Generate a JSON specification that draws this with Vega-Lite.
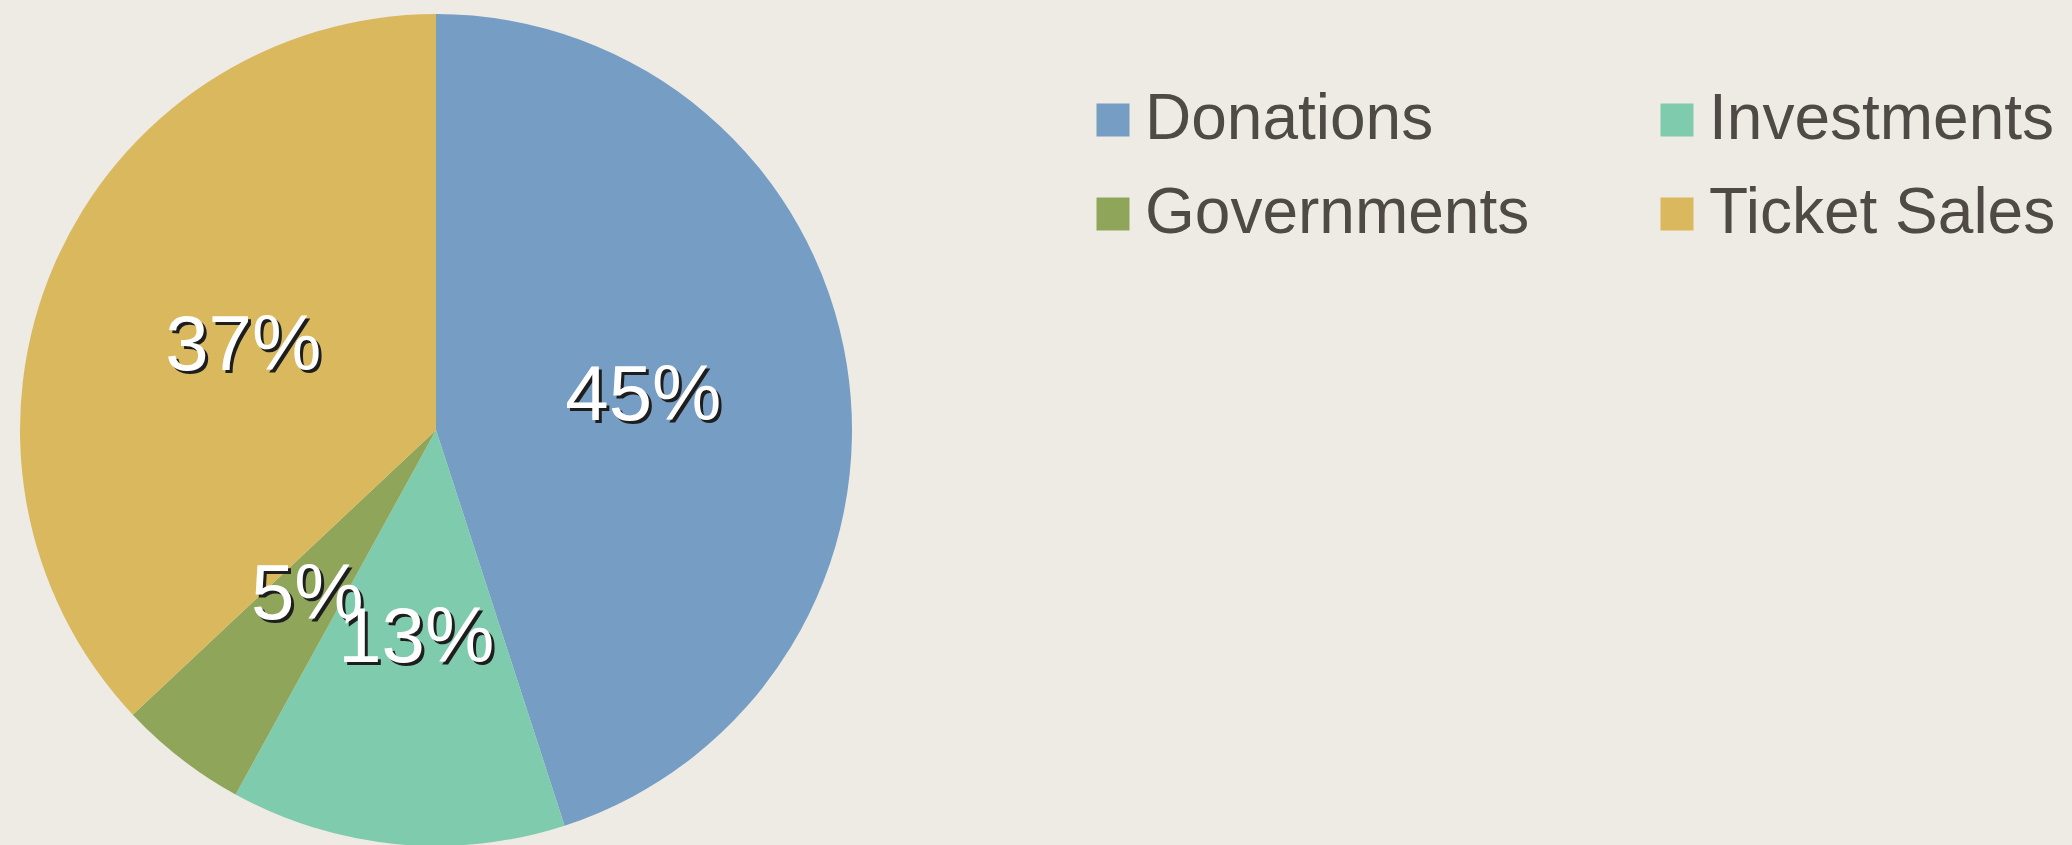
{
  "$schema": "https://vega.github.io/schema/vega-lite/v6.json",
  "width": 872,
  "height": 844,
  "autosize": {"type": "none"},
  "padding": {"left": 0, "top": 8, "right": 1200, "bottom": 0},
  "background": "#EEEBE5",
  "data": {
    "values": [
      {"source": "Donations", "value": 45, "label": "45%", "order": 1},
      {"source": "Investments", "value": 13, "label": "13%", "order": 2},
      {"source": "Governments", "value": 5, "label": "5%", "order": 3},
      {"source": "Ticket Sales", "value": 37, "label": "37%", "order": 4}
    ]
  },
  "encoding": {
    "theta": {"field": "value", "type": "quantitative", "stack": true},
    "order": {"field": "order", "type": "quantitative"}
  },
  "layer": [
    {
      "mark": {"type": "arc", "radius": 416, "strokeWidth": 0},
      "encoding": {
        "color": {
          "field": "source",
          "type": "nominal",
          "scale": {
            "domain": ["Donations", "Investments", "Governments", "Ticket Sales"],
            "range": ["#769DC4", "#7FCBAE", "#8FA65A", "#DAB85E"]
          },
          "legend": {
            "title": null,
            "orient": "none",
            "legendX": 1081,
            "legendY": 80,
            "direction": "horizontal",
            "columns": 2,
            "symbolType": "square",
            "symbolSize": 1089,
            "symbolStrokeWidth": 0,
            "labelFontSize": 64,
            "labelFont": "Liberation Sans",
            "labelColor": "#4F4A45",
            "labelOffset": 0,
            "labelLimit": 0,
            "columnPadding": 115,
            "rowPadding": 30
          }
        }
      }
    },
    {
      "mark": {"type": "text", "radius": 210, "dx": 3, "dy": 3, "fontSize": 78, "font": "Liberation Sans", "align": "center", "baseline": "middle"},
      "encoding": {"text": {"field": "label"}, "color": {"value": "#1E1E1E"}}
    },
    {
      "mark": {"type": "text", "radius": 210, "fontSize": 78, "font": "Liberation Sans", "align": "center", "baseline": "middle"},
      "encoding": {"text": {"field": "label"}, "color": {"value": "#FFFFFF"}}
    }
  ],
  "config": {"view": {"stroke": null}}
}
